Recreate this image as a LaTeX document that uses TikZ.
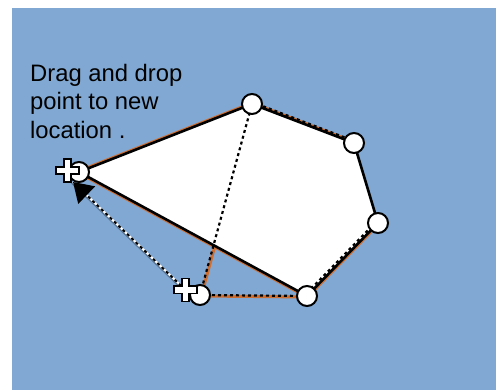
\documentclass[tikz,border=0pt]{standalone}
\usepackage{fontspec}
\setmainfont{Liberation Sans}
\usetikzlibrary{arrows.meta,calc}
\definecolor{bgblue}{RGB}{128,168,211}
\definecolor{shadoworange}{RGB}{205,110,50}
\tikzset{
  vertex/.style={circle,draw=black,fill=white,line width=2pt,minimum size=20pt,inner sep=0pt},
  edge/.style={line width=2.6pt,black},
  shadow/.style={line width=3pt,shadoworange},
  olddot/.style={line width=2.2pt,black,dash pattern=on 3pt off 3pt},
  whiteback/.style={line width=2pt,white},
  crossshape/.style={draw=black,fill=white,line width=1.8pt,line join=miter},
}
\newcommand{\crossat}[1]{%
  \draw[crossshape] ($(#1)+(-3.6,-11.5)$) -- ++(7.2,0) -- ++(0,7.9) -- ++(7.9,0) -- ++(0,7.2) -- ++(-7.9,0) -- ++(0,7.9) -- ++(-7.2,0) -- ++(0,-7.9) -- ++(-7.9,0) -- ++(0,-7.2) -- ++(7.9,0) -- cycle;}
\begin{document}
\begin{tikzpicture}[x=1pt,y=-1pt]
\useasboundingbox (0,0) rectangle (496,390);
\fill[bgblue] (12,8) rectangle (496,390);
% coordinates
\coordinate (A) at (79,172);
\coordinate (B) at (252,104);
\coordinate (C) at (354,143);
\coordinate (D) at (378,223);
\coordinate (E) at (307,296);
\coordinate (F) at (200,295);
\coordinate (crossA) at (67.5,170.5);
\coordinate (crossF) at (185.5,290);
\coordinate (tip) at (73,182);
% orange shadows
\draw[shadow] ($(A)+(0,-1)$) -- ($(B)+(0,-1)$);
\draw[shadow] ($(A)+(0.5,1.3)$) -- ($(E)+(0.5,1.3)$);
\draw[shadow] ($(E)+(0.8,0.6)$) -- ($(D)+(0.8,0.6)$);
\draw[shadow] ($(B)+(0,-1)$) -- ($(C)+(0,-1)$);
\draw[shadow] ($(F)+(0,1)$) -- ($(E)+(0,1)$);
\draw[shadow] ($(F)+(1.5,0)$) -- ($(B)+(1.5,0)$);
% new polygon
\fill[white] (A) -- (B) -- (C) -- (D) -- (E) -- cycle;
\draw[edge,line join=round] (A) -- (B) -- (C) -- (D) -- (E) -- cycle;
% old polygon (dotted)
\draw[olddot] (F) -- (B);
\draw[olddot] ($(B)+(0,-2)$) -- ($(C)+(0,-2)$);
\draw[olddot] ($(D)+(-2,-1)$) -- ($(E)+(-2,-1)$);
\draw[olddot] (F) -- (E);
% drag arrow
\draw[line width=2pt,bgblue!70!black] ($(crossF)+(-1.5,0.5)$) -- ($(tip)+(-1.5,0.5)$);
\draw[whiteback] (crossF) -- (tip);
\draw[line width=2pt,black,dash pattern=on 3pt off 3pt,-{Triangle[length=19pt,width=24pt]}] (crossF) -- (tip);
% vertices
\node[vertex] (nB) at (B) {};
\node[vertex] (nC) at (C) {};
\node[vertex] (nD) at (D) {};
\node[vertex] (nE) at (E) {};
\node[vertex] (nF) at (F) {};
\node[vertex] (nA) at (A) {};
\crossat{crossA}
\crossat{crossF}
% label
\node[anchor=north west,inner sep=0pt,align=left,font=\fontsize{23.8}{28.5}\selectfont] (label) at (30,64) {Drag and drop\\point to new\\location .};
\end{tikzpicture}
\end{document}
